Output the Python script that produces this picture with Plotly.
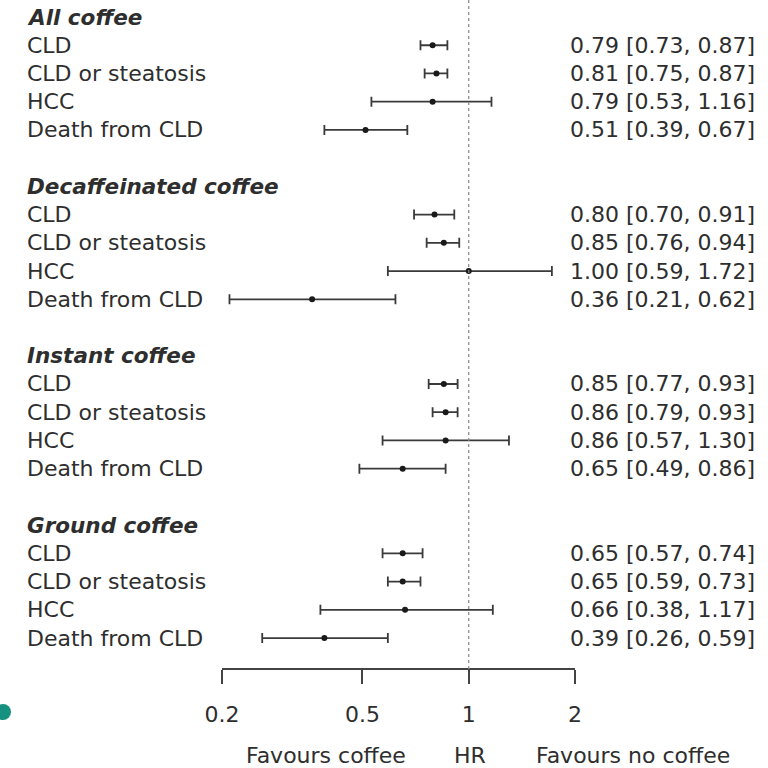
import plotly.graph_objects as go

# Hazard ratios with 95% CI for each coffee type and liver outcome
groups = ["All coffee", "Decaffeinated coffee", "Instant coffee", "Ground coffee"]
outcomes = ["CLD", "CLD or steatosis", "HCC", "Death from CLD"]

hr = [
    [0.79, 0.81, 0.79, 0.51],
    [0.80, 0.85, 1.00, 0.36],
    [0.85, 0.86, 0.86, 0.65],
    [0.65, 0.65, 0.66, 0.39],
]
ci_low = [
    [0.73, 0.75, 0.53, 0.39],
    [0.70, 0.76, 0.59, 0.21],
    [0.77, 0.79, 0.57, 0.49],
    [0.57, 0.59, 0.38, 0.26],
]
ci_high = [
    [0.87, 0.87, 1.16, 0.67],
    [0.91, 0.94, 1.72, 0.62],
    [0.93, 0.93, 1.30, 0.86],
    [0.74, 0.73, 1.17, 0.59],
]

tick_vals = [0.2, 0.5, 1, 2]
tick_text = ["0.2", "0.5", "1", "2"]

FONT = "DejaVu Sans"
TXT = "#2e2e2e"
W = H = 768

# one heading row + four outcome rows per group, one blank row between groups
xs, ys, ep, em = [], [], [], []
annotations = []
for g, name in enumerate(groups):
    head_row = g * 6
    annotations.append(dict(
        x=25 / W, xref="paper", y=head_row, yref="y", text=f"<b><i>{name}</i></b>",
        xanchor="left", yanchor="middle", showarrow=False,
        font=dict(family=FONT, size=21.5, color=TXT)))
    for i, out in enumerate(outcomes):
        row = head_row + 1 + i
        v, lo, hi = hr[g][i], ci_low[g][i], ci_high[g][i]
        xs.append(v)
        ys.append(row)
        ep.append(hi - v)
        em.append(v - lo)
        annotations.append(dict(
            x=25 / W, xref="paper", y=row, yref="y", text=out,
            xanchor="left", yanchor="middle", showarrow=False,
            font=dict(family=FONT, size=22, color=TXT)))
        annotations.append(dict(
            x=757 / W, xref="paper", y=row, yref="y",
            text=f"{v:.2f} [{lo:.2f}, {hi:.2f}]",
            xanchor="right", yanchor="middle", showarrow=False,
            font=dict(family=FONT, size=22, color=TXT)))

# captions under the axis
for txt, xc in [("Favours coffee", 326), ("HR", 470), ("Favours no coffee", 633)]:
    annotations.append(dict(
        x=xc / W, xref="paper", y=(H - 755) / H, yref="paper", text=txt,
        xanchor="center", yanchor="middle", showarrow=False,
        font=dict(family=FONT, size=22, color=TXT)))

fig = go.Figure(go.Scatter(
    x=xs, y=ys, mode="markers",
    marker=dict(color="#1a1a1a", size=6),
    error_x=dict(type="data", symmetric=False, array=ep, arrayminus=em,
                 color="#3a3a3a", thickness=1.8, width=5),
    hoverinfo="skip", showlegend=False,
))

axis_pos = (H - 669) / H
row_px, row0_px = 28.23, 17

fig.update_layout(
    template="none",
    width=W, height=H,
    margin=dict(l=0, r=0, t=0, b=0, pad=0, autoexpand=False),
    paper_bgcolor="white", plot_bgcolor="white",
    annotations=annotations,
    xaxis=dict(
        type="log", range=[-0.69897, 0.30103],
        domain=[222 / W, 575 / W], anchor="free", position=axis_pos,
        automargin=False,
        tickvals=tick_vals, ticktext=tick_text,
        ticks="outside", ticklen=14, tickwidth=2, tickcolor="#444",
        showline=True, linecolor="#444", linewidth=2,
        showgrid=False, zeroline=False,
        ticklabelstandoff=12,
        tickfont=dict(family=FONT, size=22, color=TXT),
    ),
    yaxis=dict(
        range=[(H - row0_px) / row_px, -row0_px / row_px],
        domain=[0, 1], visible=False, showgrid=False, zeroline=False,
        automargin=False,
    ),
    shapes=[
        # line of no effect at HR = 1
        dict(type="line", xref="x", yref="paper", x0=1, x1=1, y0=axis_pos, y1=1,
             line=dict(color="#888", width=1.2, dash="dot")),
        dict(type="circle", xref="paper", yref="paper",
             x0=-5 / W, x1=11 / W, y0=(H - 720) / H, y1=(H - 704) / H,
             fillcolor="#17917f", line=dict(width=0)),
    ],
)

fig.write_html("out.html")
